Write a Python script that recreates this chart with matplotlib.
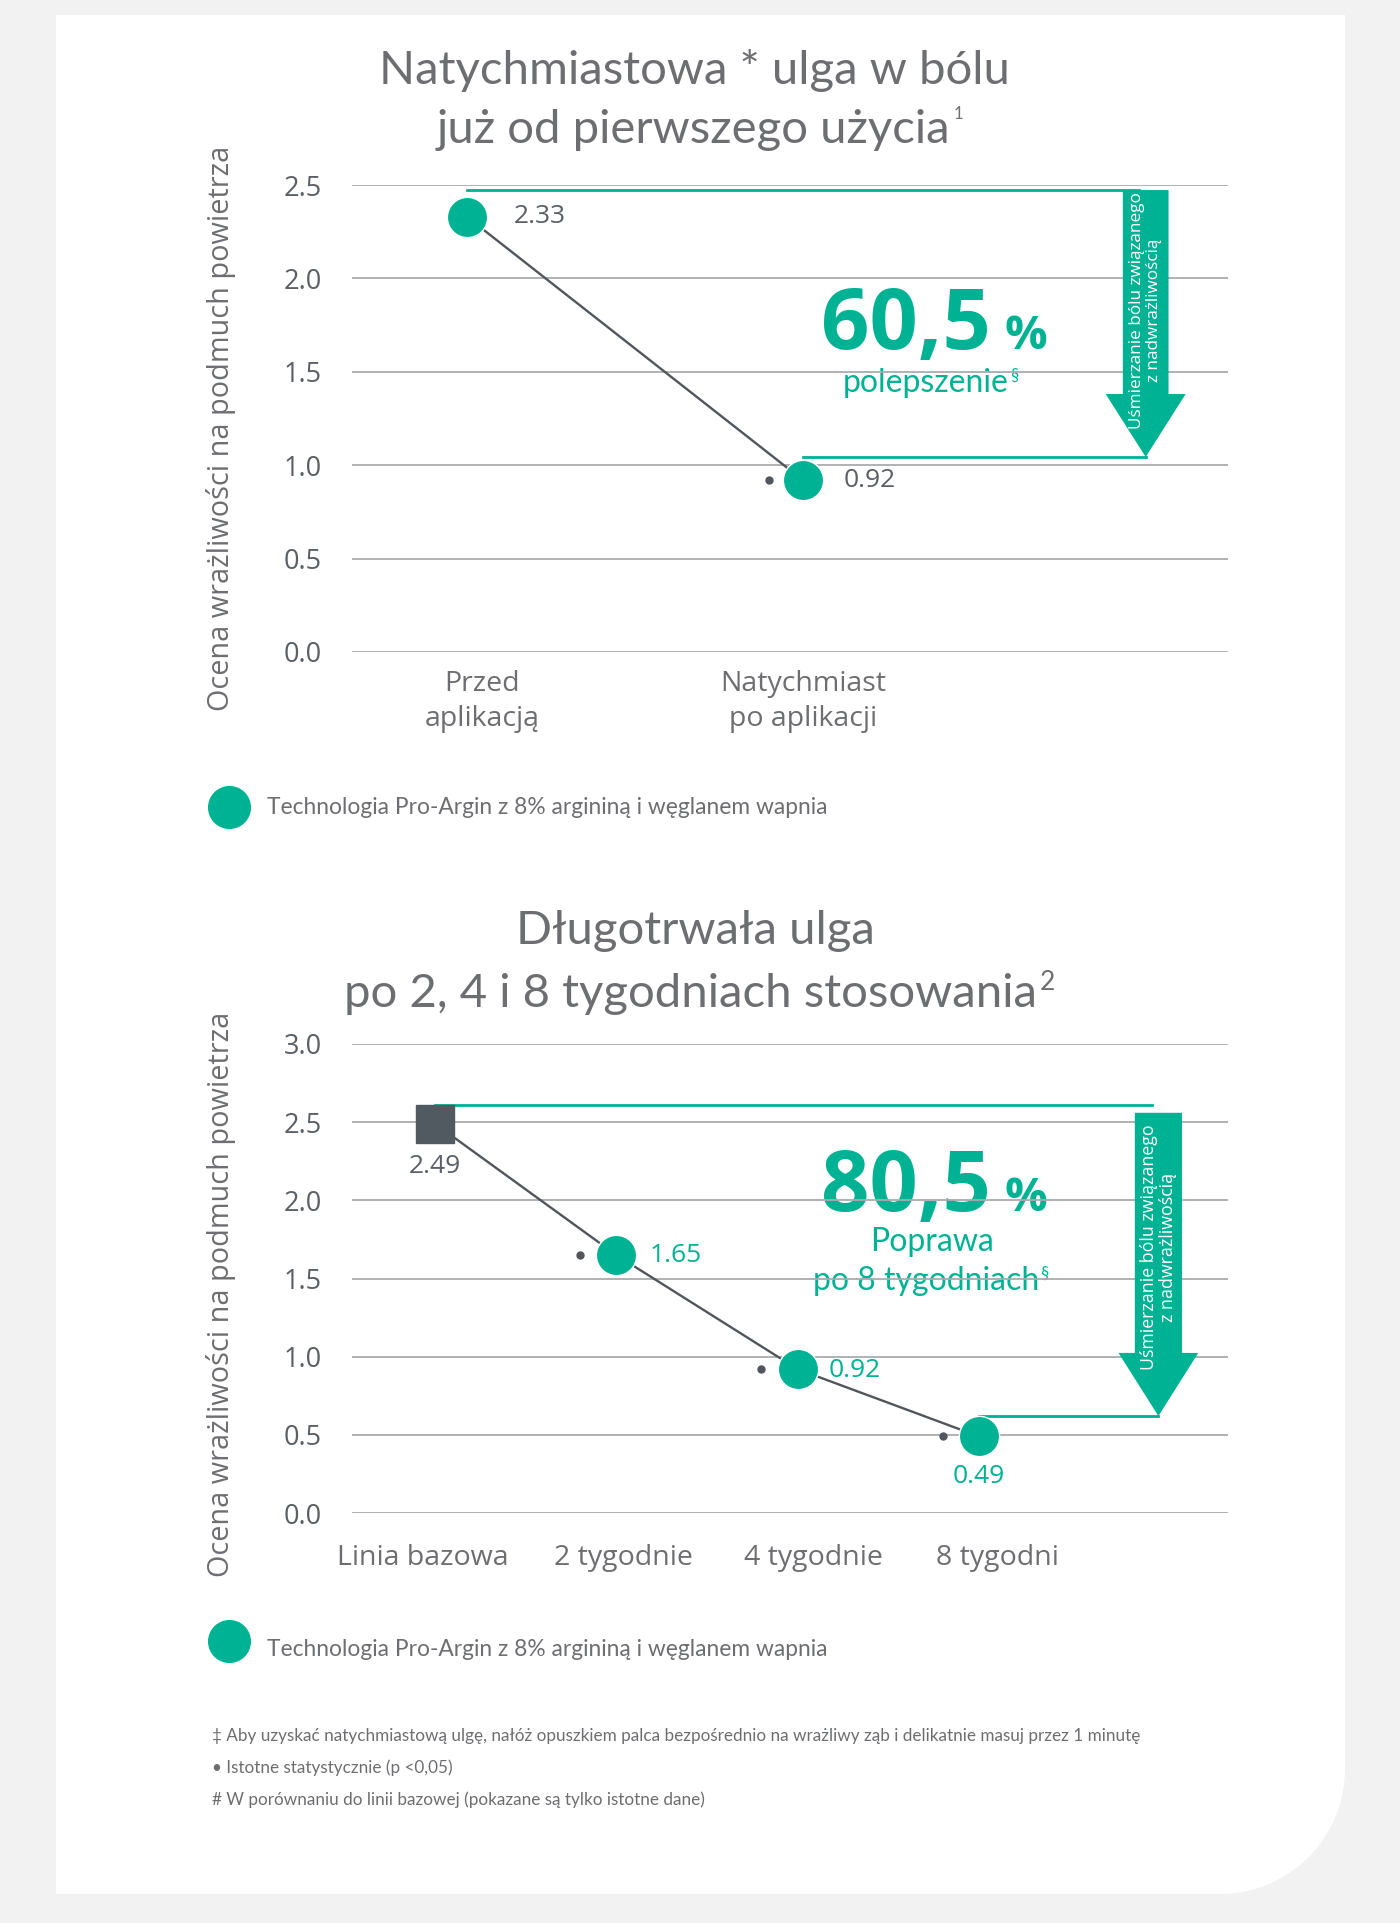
import numpy as np
import matplotlib
matplotlib.use("Agg")
import matplotlib.pyplot as plt
from matplotlib.path import Path
from matplotlib.patches import PathPatch

# data
before_after_labels = ["Przed\naplikacją", "Natychmiast\npo aplikacji"]
before_after_values = [2.33, 0.92]
weeks_labels = ["Linia bazowa", "2 tygodnie", "4 tygodnie", "8 tygodni"]
weeks_values = [2.49, 1.65, 0.92, 0.49]
ticks1 = [0.0, 0.5, 1.0, 1.5, 2.0, 2.5]
ticks2 = [0.0, 0.5, 1.0, 1.5, 2.0, 2.5, 3.0]

TEAL = "#00b294"
DARK = "#50565c"
GREY_TXT = "#6d6e71"
TICK_TXT = "#5a6066"
GRID = "#a9abae"
YLABEL = "Ocena wrażliwości na podmuch powietrza"
LEGEND = "Technologia Pro-Argin z 8% argininą i węglanem wapnia"
ARROW_TXT = "Uśmierzanie bólu związanego\nz nadwrażliwością"

fig = plt.figure(figsize=(14, 19.23), dpi=100)
fig.patch.set_facecolor("#f2f2f2")

# background card, pixel coords
bg = fig.add_axes([0, 0, 1, 1])
bg.set_xlim(0, 1400)
bg.set_ylim(1923, 0)
bg.axis("off")
x0, y0, x1, y1, r = 56, 15, 1345, 1894, 125
ang = np.linspace(0, np.pi / 2, 30)
corner = [(x1 - r + r * np.cos(a), y1 - r + r * np.sin(a)) for a in ang]
verts = [(x0, y0), (x1, y0)] + corner + [(x0, y1), (x0, y0)]
bg.add_patch(PathPatch(Path(verts), facecolor="white", edgecolor="none"))


def title_line(x, y, s, size, sup=None, supsize=None):
    t = bg.text(x, y, s, ha="center", va="center", fontsize=size,
                color=GREY_TXT, family="Lato")
    if sup:
        bg.annotate(sup, xy=(1, 1), xycoords=t, xytext=(2, 2),
                    textcoords="offset points", ha="left", va="top",
                    fontsize=supsize, color=GREY_TXT, family="Lato")
    return t


def setup(ax, ticks, xlim, ylim, pad_x):
    ax.set_facecolor("none")
    ax.set_xlim(*xlim)
    ax.set_ylim(*ylim)
    for s in ax.spines.values():
        s.set_visible(False)
    ax.set_yticks(ticks)
    ax.set_yticklabels(["%.1f" % t for t in ticks], fontsize=19.5,
                       color=TICK_TXT, family="Open Sans")
    ax.tick_params(axis="y", length=0, pad=22)
    ax.tick_params(axis="x", length=0, pad=pad_x)
    ax.yaxis.grid(True, color=GRID, lw=1.3)
    ax.set_axisbelow(True)
    ax.set_ylabel(YLABEL, fontsize=20.8, color=GREY_TXT, family="Open Sans",
                  labelpad=34)


def arrow(ax, xc, top, head_top, tip, half_shaft, half_head, text_y, fs):
    xs = [xc - half_shaft, xc + half_shaft, xc + half_shaft, xc + half_head,
          xc, xc - half_head, xc - half_shaft]
    ys = [top, top, head_top, head_top, tip, head_top, head_top]
    ax.fill(xs, ys, color=TEAL, clip_on=False, zorder=4, lw=0)
    ax.text(xc, text_y, ARROW_TXT, rotation=90, ha="center", va="center",
            color="white", fontsize=fs, family="Open Sans",
            linespacing=1.05, zorder=5, clip_on=False)


# ---------- chart 1 ----------
title_line(694, 70, "Natychmiastowa * ulga w bólu", 34)
title_line(694, 130, "już od pierwszego użycia", 34, sup="1", supsize=12)

ax1 = fig.add_axes([352 / 1400, 1 - 652 / 1923, 876 / 1400, 467 / 1923])
setup(ax1, ticks1, (-0.342, 2.265), (0, 2.5), 13)
ax1.set_xticks([0.045, 1.0])
ax1.set_xticklabels(before_after_labels, fontsize=20.5, color=GREY_TXT,
                    family="Open Sans", linespacing=1.35)
ax1.yaxis.label.set_position((0, (652 - 428) / 467))

x1d = np.arange(len(before_after_values))
ax1.plot(x1d, before_after_values, color=DARK, lw=1.7, zorder=3)
ax1.plot(x1d, before_after_values, "o", ms=29, color=TEAL, mec="white",
         mew=1, zorder=4, clip_on=False)
ax1.plot(x1d[1:] - 0.1, before_after_values[1:], "o", ms=5, color=DARK,
         zorder=3)
ax1.annotate("%.2f" % before_after_values[0], (x1d[0], before_after_values[0]),
             xytext=(34, 0), textcoords="offset points", va="center",
             fontsize=19, color=TICK_TXT, family="Open Sans")
ax1.annotate("%.2f" % before_after_values[1], (x1d[1], before_after_values[1]),
             xytext=(29, 0), textcoords="offset points", va="center",
             fontsize=19, color=TICK_TXT, family="Open Sans")

top1, bot1 = 2.473, 1.044
ax1.plot([x1d[0], 2.0], [top1, top1], color=TEAL, lw=2, zorder=2,
         clip_on=False)
ax1.plot([x1d[1], 2.02], [bot1, bot1], color=TEAL, lw=2, zorder=2,
         clip_on=False)
arrow(ax1, 2.02, top1, 1.381, bot1, 0.068, 0.119, 1.83, 12.3)

bg.text(991, 349, "60,5", ha="right", va="baseline", fontsize=61,
        fontweight="bold", color=TEAL, family="Open Sans")
bg.text(1004, 349, "%", ha="left", va="baseline", fontsize=34,
        fontweight="bold", color=TEAL, family="Open Sans")
t = bg.text(926, 383, "polepszenie", ha="center", va="center", fontsize=23,
            color=TEAL, family="Lato")
bg.annotate("§", xy=(1, 1), xycoords=t, xytext=(1, 0),
            textcoords="offset points", ha="left", va="top", fontsize=12,
            color=TEAL, family="Lato")

bg.plot([229], [807], "o", ms=30, color=TEAL)
bg.text(267, 807, LEGEND, ha="left", va="center", fontsize=16.4,
        color=GREY_TXT, family="Lato")

# ---------- chart 2 ----------
title_line(695, 931, "Długotrwała ulga", 34)
title_line(690, 994, "po 2, 4 i 8 tygodniach stosowania", 34, sup="2",
           supsize=19)

ax2 = fig.add_axes([352 / 1400, 1 - 1513 / 1923, 876 / 1400, 469 / 1923])
setup(ax2, ticks2, (-0.458, 4.374), (0, 3.0), 22)
ax2.set_xticks([-0.066, 1.037, 2.09, 3.10])
ax2.set_xticklabels(weeks_labels, fontsize=20.5, color=GREY_TXT,
                    family="Open Sans")
ax2.yaxis.label.set_position((0, (1513 - 1294) / 469))

x2d = np.arange(len(weeks_values))
ax2.plot(x2d, weeks_values, color=DARK, lw=1.7, zorder=3)
ax2.plot(x2d[:1], weeks_values[:1], "s", ms=28, color="#525a61", zorder=4)
ax2.plot(x2d[1:], weeks_values[1:], "o", ms=29, color=TEAL, mec="white",
         mew=1, zorder=4)
ax2.plot(x2d[1:] - 0.2, weeks_values[1:], "o", ms=5, color=DARK, zorder=3)

lab_offsets = [(0, -31), (24, 0), (22, -1), (0, -29)]
lab_colors = [TICK_TXT, TEAL, TEAL, TEAL]
for i, v in enumerate(weeks_values):
    dx, dy = lab_offsets[i]
    ax2.annotate("%.2f" % v, (x2d[i], v), xytext=(dx, dy),
                 textcoords="offset points", va="center",
                 ha="left" if dx else "center", fontsize=19,
                 color=lab_colors[i], family="Open Sans")

top2, bot2 = 2.61, 0.62
ax2.plot([x2d[0], 3.955], [top2, top2], color=TEAL, lw=2, zorder=2,
         clip_on=False)
ax2.plot([x2d[3], 3.99], [bot2, bot2], color=TEAL, lw=2, zorder=2,
         clip_on=False)
arrow(ax2, 3.99, 2.56, 1.024, bot2, 0.13, 0.22, 1.70, 12.8)

bg.text(991, 1211, "80,5", ha="right", va="baseline", fontsize=61,
        fontweight="bold", color=TEAL, family="Open Sans")
bg.text(1004, 1211, "%", ha="left", va="baseline", fontsize=34,
        fontweight="bold", color=TEAL, family="Open Sans")
bg.text(932, 1242, "Poprawa", ha="center", va="center", fontsize=23,
        color=TEAL, family="Lato")
t = bg.text(926, 1281, "po 8 tygodniach", ha="center", va="center",
            fontsize=23, color=TEAL, family="Lato")
bg.annotate("§", xy=(1, 1), xycoords=t, xytext=(1, 0),
            textcoords="offset points", ha="left", va="top", fontsize=12,
            color=TEAL, family="Lato")

bg.plot([229], [1641], "o", ms=30, color=TEAL)
bg.text(267, 1649, LEGEND, ha="left", va="center", fontsize=16.4,
        color=GREY_TXT, family="Lato")

# footnotes
notes = [
    "‡ Aby uzyskać natychmiastową ulgę, nałóż opuszkiem palca bezpośrednio "
    "na wrażliwy ząb i delikatnie masuj przez 1 minutę",
    "• Istotne statystycznie (p <0,05)",
    "# W porównaniu do linii bazowej (pokazane są tylko istotne dane)",
]
for i, n in enumerate(notes):
    bg.text(212, 1736 + 32 * i, n, ha="left", va="center", fontsize=12.3,
            color=GREY_TXT, family="Lato")

fig.savefig("out.png", dpi=100, facecolor=fig.get_facecolor())
